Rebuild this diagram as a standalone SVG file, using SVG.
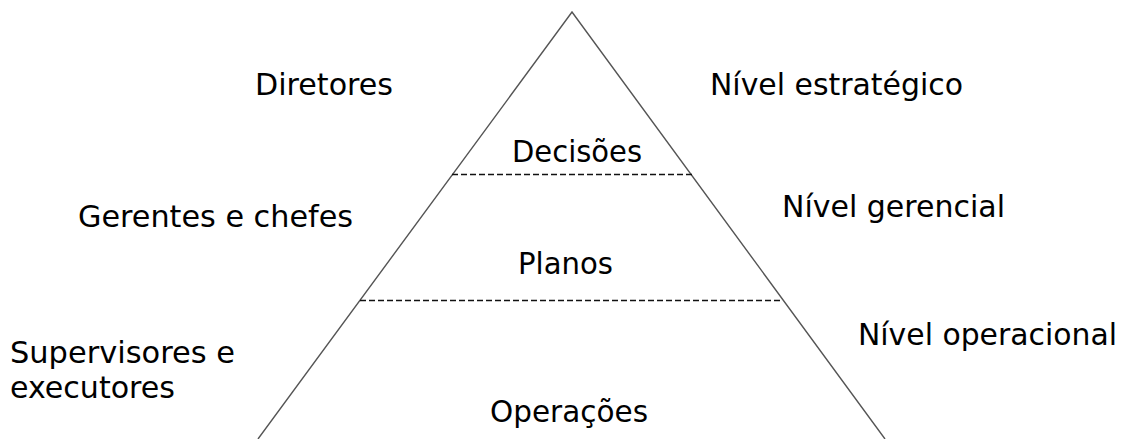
<svg xmlns="http://www.w3.org/2000/svg" width="1129" height="439" viewBox="0 0 1129 439">
<style>
text{font-family:"DejaVu Sans","Liberation Sans",sans-serif;font-size:29.5px;fill:#000}
.edge{stroke:#555;stroke-width:1.4;fill:none}
.dash{stroke:#111;stroke-width:1.4;stroke-dasharray:6 3;fill:none}
</style>
<rect width="1129" height="439" fill="#fff"/>
<g id="pyramid">
<polyline class="edge" points="258,439 572,12 885,439"/>
</g>
<g id="connectors">
<line class="dash" x1="452" y1="174.5" x2="692" y2="174.5"/>
<line class="dash" x1="360" y1="300.5" x2="783" y2="300.5"/>
</g>
<g id="decisoes"><text x="512" y="161.5" textLength="130" lengthAdjust="spacingAndGlyphs">Decisões</text></g>
<g id="planos"><text x="518" y="274" textLength="95" lengthAdjust="spacingAndGlyphs">Planos</text></g>
<g id="operacoes"><text x="490" y="421.5" textLength="158" lengthAdjust="spacingAndGlyphs">Operações</text></g>
<g id="diretores"><text x="255" y="95" textLength="138" lengthAdjust="spacingAndGlyphs">Diretores</text></g>
<g id="gerentes"><text x="78" y="226.5" textLength="275" lengthAdjust="spacingAndGlyphs">Gerentes e chefes</text></g>
<g id="supervisores"><text x="10" y="363" textLength="225" lengthAdjust="spacingAndGlyphs">Supervisores e</text><text x="10" y="398" textLength="165" lengthAdjust="spacingAndGlyphs">executores</text></g>
<g id="estrategico"><text x="710" y="95" textLength="253" lengthAdjust="spacingAndGlyphs">Nível estratégico</text></g>
<g id="gerencial"><text x="782" y="216.5" textLength="223" lengthAdjust="spacingAndGlyphs">Nível gerencial</text></g>
<g id="operacional"><text x="858" y="345" textLength="259" lengthAdjust="spacingAndGlyphs">Nível operacional</text></g>
</svg>
